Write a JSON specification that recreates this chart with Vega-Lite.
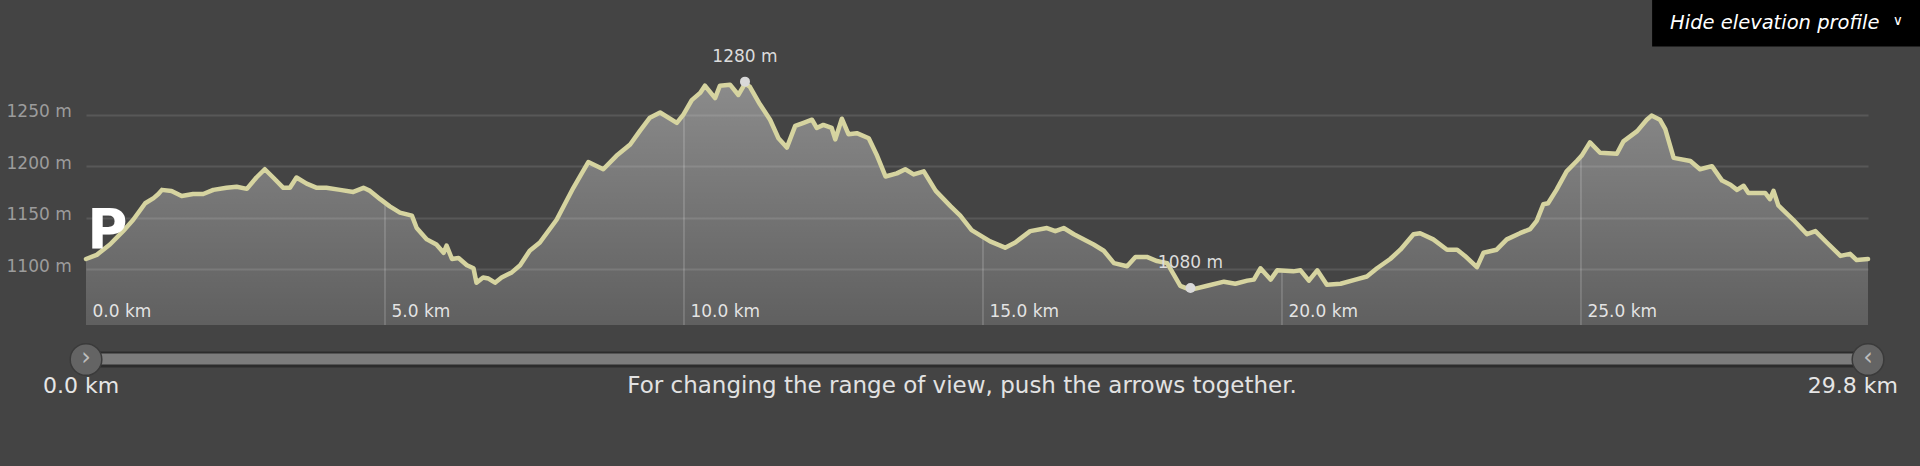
{
  "$schema": "https://vega.github.io/schema/vega-lite/v6.json",
  "width": 1782,
  "height": 262,
  "autosize": {"type": "none"},
  "padding": {"left": 86, "top": 63, "right": 52, "bottom": 141},
  "background": "#444444",
  "config": {
    "view": {"stroke": null},
    "text": {"font": "DejaVu Sans"},
    "axis": {"labelFont": "DejaVu Sans"}
  },
  "datasets": {
    "profile": [
      {"km": 0.00, "elev": 1110}, {"km": 0.18, "elev": 1114}, {"km": 0.40, "elev": 1124}, {"km": 0.62, "elev": 1137},
      {"km": 0.79, "elev": 1148}, {"km": 0.99, "elev": 1164}, {"km": 1.13, "elev": 1169}, {"km": 1.21, "elev": 1173},
      {"km": 1.27, "elev": 1177}, {"km": 1.43, "elev": 1176}, {"km": 1.60, "elev": 1171}, {"km": 1.79, "elev": 1173},
      {"km": 1.96, "elev": 1173}, {"km": 2.13, "elev": 1177}, {"km": 2.35, "elev": 1179}, {"km": 2.52, "elev": 1180},
      {"km": 2.69, "elev": 1178}, {"km": 2.85, "elev": 1189}, {"km": 2.99, "elev": 1197}, {"km": 3.13, "elev": 1189},
      {"km": 3.30, "elev": 1179}, {"km": 3.41, "elev": 1179}, {"km": 3.52, "elev": 1189}, {"km": 3.69, "elev": 1183},
      {"km": 3.86, "elev": 1179}, {"km": 4.02, "elev": 1179}, {"km": 4.25, "elev": 1177}, {"km": 4.47, "elev": 1175},
      {"km": 4.64, "elev": 1179}, {"km": 4.75, "elev": 1176}, {"km": 4.92, "elev": 1168}, {"km": 5.08, "elev": 1161},
      {"km": 5.25, "elev": 1155}, {"km": 5.45, "elev": 1152}, {"km": 5.53, "elev": 1140}, {"km": 5.70, "elev": 1129},
      {"km": 5.86, "elev": 1124}, {"km": 5.98, "elev": 1116}, {"km": 6.03, "elev": 1123}, {"km": 6.12, "elev": 1110},
      {"km": 6.23, "elev": 1111}, {"km": 6.37, "elev": 1104}, {"km": 6.48, "elev": 1101}, {"km": 6.53, "elev": 1087},
      {"km": 6.64, "elev": 1092}, {"km": 6.73, "elev": 1091}, {"km": 6.84, "elev": 1087}, {"km": 6.95, "elev": 1092},
      {"km": 7.12, "elev": 1097}, {"km": 7.26, "elev": 1104}, {"km": 7.42, "elev": 1118}, {"km": 7.59, "elev": 1126},
      {"km": 7.87, "elev": 1148}, {"km": 8.15, "elev": 1179}, {"km": 8.29, "elev": 1193}, {"km": 8.40, "elev": 1204},
      {"km": 8.65, "elev": 1197}, {"km": 8.87, "elev": 1210}, {"km": 9.10, "elev": 1221}, {"km": 9.26, "elev": 1234},
      {"km": 9.43, "elev": 1247}, {"km": 9.60, "elev": 1252}, {"km": 9.88, "elev": 1242}, {"km": 9.99, "elev": 1250},
      {"km": 10.13, "elev": 1264}, {"km": 10.27, "elev": 1271}, {"km": 10.35, "elev": 1278}, {"km": 10.52, "elev": 1266},
      {"km": 10.60, "elev": 1278}, {"km": 10.77, "elev": 1279}, {"km": 10.91, "elev": 1269}, {"km": 11.02, "elev": 1280},
      {"km": 11.10, "elev": 1277}, {"km": 11.27, "elev": 1260}, {"km": 11.44, "elev": 1245}, {"km": 11.58, "elev": 1227},
      {"km": 11.72, "elev": 1218}, {"km": 11.86, "elev": 1239}, {"km": 12.00, "elev": 1242}, {"km": 12.14, "elev": 1245},
      {"km": 12.22, "elev": 1237}, {"km": 12.33, "elev": 1240}, {"km": 12.47, "elev": 1237}, {"km": 12.53, "elev": 1226},
      {"km": 12.64, "elev": 1246}, {"km": 12.75, "elev": 1231}, {"km": 12.89, "elev": 1232}, {"km": 13.09, "elev": 1227},
      {"km": 13.23, "elev": 1210}, {"km": 13.37, "elev": 1190}, {"km": 13.56, "elev": 1193}, {"km": 13.70, "elev": 1197},
      {"km": 13.84, "elev": 1192}, {"km": 14.01, "elev": 1195}, {"km": 14.21, "elev": 1176}, {"km": 14.46, "elev": 1161},
      {"km": 14.62, "elev": 1152}, {"km": 14.81, "elev": 1138}, {"km": 15.12, "elev": 1127}, {"km": 15.37, "elev": 1121},
      {"km": 15.54, "elev": 1126}, {"km": 15.79, "elev": 1137}, {"km": 16.07, "elev": 1140}, {"km": 16.21, "elev": 1137},
      {"km": 16.35, "elev": 1140}, {"km": 16.52, "elev": 1134}, {"km": 16.85, "elev": 1124}, {"km": 17.02, "elev": 1118},
      {"km": 17.19, "elev": 1106}, {"km": 17.41, "elev": 1103}, {"km": 17.55, "elev": 1112}, {"km": 17.74, "elev": 1112},
      {"km": 17.91, "elev": 1108}, {"km": 18.08, "elev": 1106}, {"km": 18.30, "elev": 1084}, {"km": 18.47, "elev": 1080},
      {"km": 18.75, "elev": 1084}, {"km": 19.03, "elev": 1088}, {"km": 19.22, "elev": 1086}, {"km": 19.42, "elev": 1089},
      {"km": 19.53, "elev": 1090}, {"km": 19.64, "elev": 1101}, {"km": 19.81, "elev": 1090}, {"km": 19.92, "elev": 1099},
      {"km": 20.19, "elev": 1098}, {"km": 20.31, "elev": 1099}, {"km": 20.45, "elev": 1089}, {"km": 20.59, "elev": 1099},
      {"km": 20.75, "elev": 1085}, {"km": 20.98, "elev": 1086}, {"km": 21.23, "elev": 1090}, {"km": 21.42, "elev": 1093},
      {"km": 21.59, "elev": 1101}, {"km": 21.81, "elev": 1110}, {"km": 21.98, "elev": 1119}, {"km": 22.20, "elev": 1134},
      {"km": 22.31, "elev": 1135}, {"km": 22.53, "elev": 1129}, {"km": 22.76, "elev": 1119}, {"km": 22.93, "elev": 1119},
      {"km": 23.06, "elev": 1113}, {"km": 23.26, "elev": 1102}, {"km": 23.37, "elev": 1116}, {"km": 23.59, "elev": 1119},
      {"km": 23.76, "elev": 1129}, {"km": 23.98, "elev": 1135}, {"km": 24.15, "elev": 1139}, {"km": 24.26, "elev": 1147},
      {"km": 24.37, "elev": 1163}, {"km": 24.45, "elev": 1164}, {"km": 24.59, "elev": 1177}, {"km": 24.76, "elev": 1195},
      {"km": 24.93, "elev": 1205}, {"km": 25.01, "elev": 1210}, {"km": 25.15, "elev": 1223}, {"km": 25.32, "elev": 1213},
      {"km": 25.60, "elev": 1212}, {"km": 25.71, "elev": 1224}, {"km": 25.94, "elev": 1234}, {"km": 26.10, "elev": 1245},
      {"km": 26.18, "elev": 1249}, {"km": 26.32, "elev": 1245}, {"km": 26.41, "elev": 1236}, {"km": 26.55, "elev": 1208},
      {"km": 26.83, "elev": 1205}, {"km": 26.99, "elev": 1197}, {"km": 27.19, "elev": 1200}, {"km": 27.36, "elev": 1186},
      {"km": 27.50, "elev": 1182}, {"km": 27.61, "elev": 1177}, {"km": 27.72, "elev": 1181}, {"km": 27.80, "elev": 1174},
      {"km": 28.08, "elev": 1174}, {"km": 28.16, "elev": 1168}, {"km": 28.22, "elev": 1176}, {"km": 28.30, "elev": 1162},
      {"km": 28.55, "elev": 1148}, {"km": 28.78, "elev": 1134}, {"km": 28.92, "elev": 1137}, {"km": 29.11, "elev": 1126},
      {"km": 29.34, "elev": 1113}, {"km": 29.50, "elev": 1115}, {"km": 29.61, "elev": 1109}, {"km": 29.80, "elev": 1110}
    ],
    "gridTicks": [
      {"km": 5, "elev": 1163}, {"km": 10, "elev": 1251}, {"km": 15, "elev": 1132},
      {"km": 20, "elev": 1099}, {"km": 25, "elev": 1209}
    ],
    "extremes": [
      {"km": 11.02, "elev": 1280, "label": "1280 m"},
      {"km": 18.47, "elev": 1080, "label": "1080 m"}
    ],
    "handles": [
      {"km": 0, "arrow": "›", "label": "0.0 km", "side": "start"},
      {"km": 29.8, "arrow": "‹", "label": "29.8 km", "side": "end"}
    ],
    "track": [
      {"start": 0, "end": 29.8}
    ],
    "notes": [
      {"text": "For changing the range of view, push the arrows together."}
    ],
    "marker": [
      {"text": "P"}
    ],
    "button": [
      {"text": "Hide elevation profile", "chevron": "∨"}
    ]
  },
  "layer": [
    {
      "data": {"name": "profile"},
      "mark": {
        "type": "area",
        "fill": {
          "gradient": "linear", "x1": 0, "y1": 0, "x2": 0, "y2": 1,
          "stops": [
            {"offset": 0, "color": "rgba(255,255,255,0.38)"},
            {"offset": 1, "color": "rgba(255,255,255,0.15)"}
          ]
        }
      },
      "encoding": {
        "x": {
          "field": "km", "type": "quantitative",
          "scale": {"domain": [0, 29.8], "nice": false, "zero": false},
          "axis": {
            "values": [0, 5, 10, 15, 20, 25],
            "labelExpr": "format(datum.value, '.1f') + ' km'",
            "title": null, "grid": false, "domain": false, "ticks": false, "tickSize": 0,
            "labelAlign": "left", "labelBaseline": "alphabetic", "labelOffset": 6, "labelPadding": -9,
            "labelColor": "#dedede", "labelFontSize": 17, "labelOverlap": false, "labelFlush": false
          }
        },
        "y": {
          "field": "elev", "type": "quantitative",
          "scale": {"domain": [1046, 1300], "nice": false, "zero": false},
          "axis": {
            "values": [1100, 1150, 1200, 1250],
            "labelExpr": "datum.value + ' m'",
            "title": null, "grid": true, "gridColor": "#585858", "gridWidth": 2,
            "domain": false, "ticks": false, "tickSize": 0,
            "labelAlign": "left", "labelBaseline": "alphabetic", "labelPadding": 80, "labelOffset": 2,
            "labelColor": "#9c9c9c", "labelFontSize": 17, "labelOverlap": false
          }
        },
        "y2": {"datum": 1046}
      }
    },
    {
      "data": {"name": "gridTicks"},
      "mark": {"type": "rule", "stroke": "#ffffff", "strokeOpacity": 0.2, "strokeWidth": 1.5},
      "encoding": {
        "x": {"field": "km", "type": "quantitative"},
        "y": {"field": "elev", "type": "quantitative"},
        "y2": {"datum": 1046}
      }
    },
    {
      "data": {"name": "profile"},
      "mark": {"type": "line", "stroke": "#d6d4a0", "strokeWidth": 4.5, "strokeJoin": "round", "strokeCap": "round"},
      "encoding": {
        "x": {"field": "km", "type": "quantitative"},
        "y": {"field": "elev", "type": "quantitative"}
      }
    },
    {
      "data": {"name": "extremes"},
      "mark": {"type": "point", "shape": "circle", "filled": true, "size": 100, "color": "#d9d9d9", "opacity": 1, "yOffset": -2},
      "encoding": {
        "x": {"field": "km", "type": "quantitative"},
        "y": {"field": "elev", "type": "quantitative"}
      }
    },
    {
      "data": {"name": "extremes"},
      "mark": {"type": "text", "align": "center", "baseline": "alphabetic", "fontSize": 17, "color": "#dcdcdc", "yOffset": -21.5},
      "encoding": {
        "x": {"field": "km", "type": "quantitative"},
        "y": {"field": "elev", "type": "quantitative"},
        "text": {"field": "label"}
      }
    },
    {
      "data": {"name": "marker"},
      "mark": {"type": "text", "align": "left", "baseline": "alphabetic", "fontWeight": "bold", "fontSize": 55, "color": "#ffffff"},
      "encoding": {
        "x": {"datum": 0.02},
        "y": {"datum": 1120.6},
        "text": {"field": "text"}
      }
    },
    {
      "data": {"name": "track"},
      "mark": {"type": "rule", "stroke": "#2c2c2c", "strokeWidth": 16, "yOffset": 34.5},
      "encoding": {
        "x": {"field": "start", "type": "quantitative"},
        "x2": {"field": "end"},
        "y": {"datum": 1046}
      }
    },
    {
      "data": {"name": "track"},
      "mark": {"type": "rule", "stroke": "#7c7c7c", "strokeWidth": 11, "yOffset": 34},
      "encoding": {
        "x": {"field": "start", "type": "quantitative"},
        "x2": {"field": "end"},
        "y": {"datum": 1046}
      }
    },
    {
      "data": {"name": "handles"},
      "mark": {"type": "point", "shape": "circle", "filled": true, "size": 1000, "fill": "#646464", "stroke": "#3a3a3a", "strokeWidth": 1.5, "opacity": 1, "yOffset": 34.5},
      "encoding": {
        "x": {"field": "km", "type": "quantitative"},
        "y": {"datum": 1046}
      }
    },
    {
      "data": {"name": "handles"},
      "mark": {"type": "text", "align": "center", "baseline": "middle", "fontSize": 24, "color": "#bdbdbd", "yOffset": 33},
      "encoding": {
        "x": {"field": "km", "type": "quantitative"},
        "y": {"datum": 1046},
        "text": {"field": "arrow"}
      }
    },
    {
      "data": {"name": "handles"},
      "transform": [{"filter": "datum.side === 'start'"}],
      "mark": {"type": "text", "align": "left", "baseline": "alphabetic", "fontSize": 22, "color": "#e6e6e6", "dx": -43, "yOffset": 68},
      "encoding": {
        "x": {"field": "km", "type": "quantitative"},
        "y": {"datum": 1046},
        "text": {"field": "label"}
      }
    },
    {
      "data": {"name": "handles"},
      "transform": [{"filter": "datum.side === 'end'"}],
      "mark": {"type": "text", "align": "right", "baseline": "alphabetic", "fontSize": 22, "color": "#e6e6e6", "dx": 30, "yOffset": 68},
      "encoding": {
        "x": {"field": "km", "type": "quantitative"},
        "y": {"datum": 1046},
        "text": {"field": "label"}
      }
    },
    {
      "data": {"name": "notes"},
      "mark": {"type": "text", "align": "center", "baseline": "alphabetic", "fontSize": 23, "color": "#e2e2e2", "yOffset": 68},
      "encoding": {
        "x": {"datum": 14.65},
        "y": {"datum": 1046},
        "text": {"field": "text"}
      }
    },
    {
      "data": {"name": "button"},
      "mark": {"type": "rect", "fill": "#000000"},
      "encoding": {
        "x": {"datum": 26.19},
        "x2": {"datum": 30.8},
        "y": {"datum": 1362},
        "y2": {"datum": 1316}
      }
    },
    {
      "data": {"name": "button"},
      "mark": {"type": "text", "align": "left", "baseline": "alphabetic", "fontSize": 19.5, "fontStyle": "italic", "color": "#ffffff"},
      "encoding": {
        "x": {"datum": 26.49},
        "y": {"datum": 1333.4},
        "text": {"field": "text"}
      }
    },
    {
      "data": {"name": "button"},
      "mark": {"type": "text", "align": "center", "baseline": "middle", "fontSize": 14, "color": "#ffffff"},
      "encoding": {
        "x": {"datum": 30.3},
        "y": {"datum": 1341},
        "text": {"field": "chevron"}
      }
    }
  ]
}
